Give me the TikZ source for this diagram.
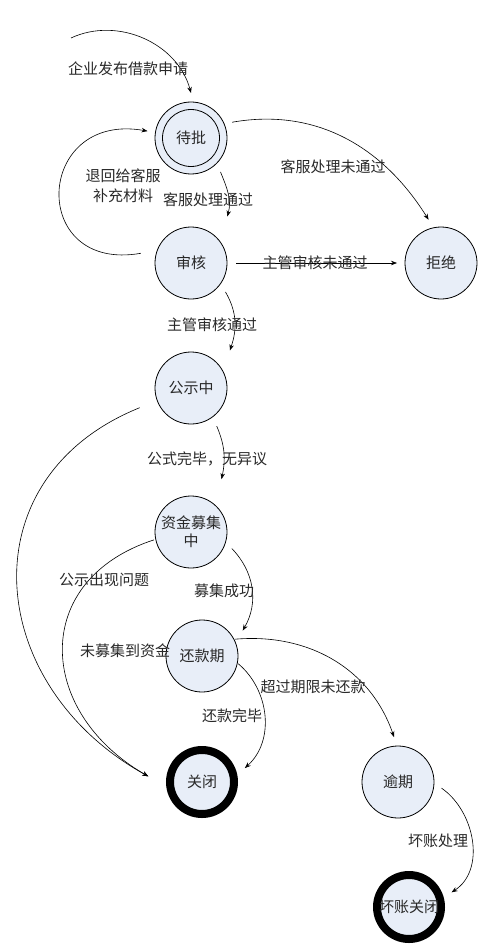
\documentclass[tikz,border=0pt]{standalone}
\usepackage{fontspec}
\newfontfamily\cjk{Noto Sans CJK SC}
\newcommand\cjkfont{\cjk\fontsize{15}{18}\selectfont}
\usetikzlibrary{calc,arrows.meta}
\definecolor{nodefill}{RGB}{232,238,248}
\definecolor{txt}{RGB}{40,40,40}
\begin{document}
\begin{tikzpicture}[x=1pt,y=-1pt,
  state/.style={circle,draw,fill=nodefill,minimum size=72pt,inner sep=0pt,line width=0.8pt,font=\cjkfont,text=txt},
  endstate/.style={state,line width=8pt,minimum size=64pt},
  lbl/.style={font=\cjkfont,text=txt,inner sep=0pt},
  arr/.style={line width=0.6pt,-{Stealth[length=6pt,width=4.5pt]}}]
\useasboundingbox (0,0) rectangle (492,944);

% states
\node[state] (dp) at (191,138) {待批};
\draw[line width=0.8pt] (dp.center) circle[radius=28.5pt];
\node[state] (sh) at (191,263) {审核};
\node[state] (jj) at (441,263) {拒绝};
\node[state] (gs) at (191,388) {公示中};
\node[state,align=center] (mj) at (191,532) {资金募集\\中};
\node[state] (hk) at (202,656) {还款期};
\node[endstate] (gb) at (202,782) {关闭};
\node[state] (yq) at (398,782) {逾期};
\node[endstate] (hz) at (409,907) {坏账关闭};

% transitions
\coordinate (s0) at (71,38);
\draw[arr] (s0) to[out=25,in=105] ($(dp.center)+(90:45pt)$);
\draw[arr] ($(dp.center)+(21:44pt)$) to[out=10,in=122] ($(jj.center)+(106:45pt)$);
\draw[arr] ($(dp.center)+(-49:45pt)$) to[out=-68,in=75] ($(sh.center)+(52:59pt)$);
\draw[arr] ($(sh.center)+(169:51pt)$) to[out=190,in=170,looseness=2.4] ($(dp.center)+(171:44pt)$);
\draw[arr] ($(sh.center)+(0:45pt)$) -- ($(jj.center)+(180:44pt)$);
\draw[arr] ($(sh.center)+(-40:45pt)$) to[out=-60,in=71] ($(gs.center)+(44:54pt)$);
\draw[arr] ($(gs.center)+(-56:46pt)$) to[out=-67,in=78] ($(mj.center)+(60:61pt)$);
\draw[arr] ($(mj.center)+(-22:44pt)$) to[out=-46,in=60] ($(hk.center)+(32:48pt)$);
\draw[arr] ($(gs.center)+(201:55pt)$) to[out=202,in=151,looseness=1.3] ($(gb.center)+(174:54pt)$);
\draw[arr] ($(mj.center)+(192:38pt)$) to[out=198,in=150,looseness=1.4] ($(gb.center)+(174:54pt)$);
\draw[arr] ($(hk.center)+(-12:37pt)$) to[out=-40,in=42] ($(gb.center)+(18:45pt)$);
\draw[arr] ($(hk.center)+(27:37pt)$) to[out=5,in=109] ($(yq.center)+(95:45pt)$);
\draw[arr] ($(yq.center)+(-8:44pt)$) to[out=-35,in=33] ($(hz.center)+(19:45pt)$);

% labels
\node[lbl] at (128,69) {企业发布借款申请};
\node[lbl] at (333,167) {客服处理未通过};
\node[lbl] at (208,200) {客服处理通过};
\node[lbl,align=center] at (123,186) {退回给客服\\[2pt]补充材料};
\node[lbl] at (315,263) {主管审核未通过};
\node[lbl] at (212,325) {主管审核通过};
\node[lbl] at (207,459) {公式完毕，无异议};
\node[lbl] at (224,591) {募集成功};
\node[lbl] at (104,580) {公示出现问题};
\node[lbl] at (125,651) {未募集到资金};
\node[lbl] at (232,716) {还款完毕};
\node[lbl] at (313,687) {超过期限未还款};
\node[lbl] at (438,841) {坏账处理};
\end{tikzpicture}
\end{document}
